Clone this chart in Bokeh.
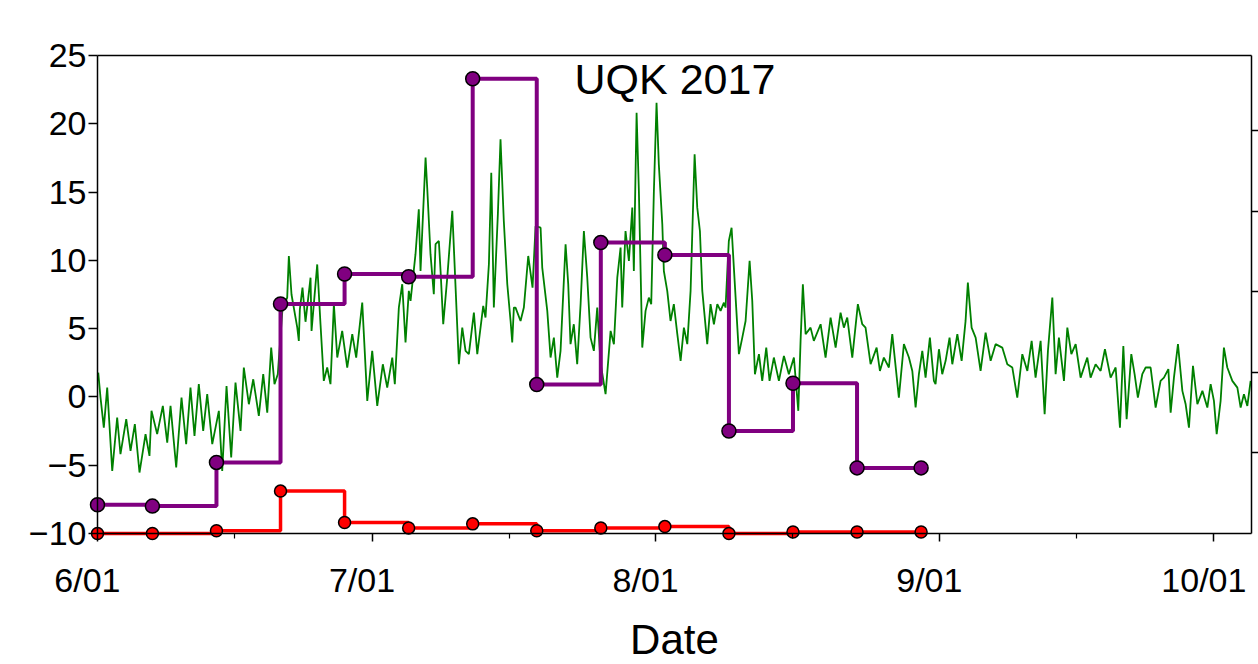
from bokeh.plotting import figure
from bokeh.models import Range1d, LinearAxis, FixedTicker, Label, CustomJSTickFormatter
from bokeh.embed import file_html
from bokeh.resources import INLINE

# ---- data ----
x_tick_days = [0, 30, 61, 92, 122]
x_tick_labels = ["6/01", "7/01", "8/01", "9/01", "10/01"]
x_minor_days = [15, 45, 76, 107]
y_ticks = [-10, -5, 0, 5, 10, 15, 20, 25]
x_start, x_end = 0, 126.1
y_start, y_end = -10, 25

sample_days = [0, 6, 13, 20, 27, 34, 41, 48, 55, 62, 69, 76, 83, 90]
purple_vals = [-7.9, -8.0, -4.8, 6.8, 9.0, 8.8, 23.3, 0.9, 11.3, 10.4, -2.5, 1.0, -5.2, -5.2]
red_vals = [-10.0, -10.0, -9.8, -6.9, -9.2, -9.6, -9.3, -9.8, -9.6, -9.5, -10.0, -9.9, -9.9, -9.9]

green_days = [
    0.08, 0.33, 0.69, 1.06, 1.61, 2.15, 2.51, 3.14, 3.61, 4.08, 4.59, 5.25, 5.68, 5.90,
    6.52, 7.14, 7.62, 7.98, 8.60, 9.18, 9.69, 10.16, 10.60, 11.07, 11.55, 11.99, 12.54,
    13.26, 13.63, 14.10, 14.61, 15.08, 15.63, 15.99, 16.54, 17.02, 17.63, 18.11, 18.55,
    18.98, 19.34, 19.70, 20.22, 20.73, 20.91, 21.20, 21.83, 22.00, 22.11, 22.40, 22.73,
    23.28, 23.39, 24.01, 24.37, 24.73, 25.10, 25.46, 25.83, 26.20, 26.74, 27.29, 27.84,
    28.27, 28.93, 29.48, 30.02, 30.57, 31.18, 31.66, 32.21, 32.49, 32.93, 33.30, 33.66,
    34.02, 34.21, 34.75, 35.11, 35.30, 35.49, 35.85, 36.03, 36.39, 36.75, 36.94, 37.30,
    37.49, 37.78, 38.22, 38.77, 39.13, 39.49, 39.86, 40.22, 40.58, 41.13, 41.50, 42.15,
    42.40, 42.77, 43.03, 43.31, 43.75, 44.04, 44.40, 44.78, 45.14, 45.32, 45.50, 45.68,
    46.23, 46.59, 47.07, 47.54, 47.87, 48.42, 48.60, 49.15, 49.51, 49.87, 50.24, 50.60,
    51.15, 51.44, 51.69, 52.05, 52.42, 52.79, 53.15, 53.52, 53.88, 54.24, 54.61, 54.97,
    55.52, 56.07, 56.43, 56.80, 57.16, 57.34, 57.70, 58.07, 58.44, 58.61, 58.91, 59.16,
    59.53, 59.89, 60.25, 60.51, 60.80, 61.09, 61.34, 61.72, 61.89, 62.26, 62.62, 62.98,
    63.36, 63.72, 64.08, 64.45, 64.81, 65.25, 65.54, 65.83, 66.09, 66.63, 66.99, 67.36,
    67.73, 68.09, 68.45, 68.63, 68.99, 69.29, 69.54, 70.09, 70.46, 70.82, 71.26, 71.55,
    71.84, 72.28, 72.64, 73.08, 73.44, 73.91, 74.46, 75.01, 75.55, 76.10, 76.58, 76.83,
    77.08, 77.38, 77.92, 78.28, 79.02, 79.56, 80.11, 80.66, 81.20, 81.56, 81.93, 82.48,
    83.09, 83.57, 83.93, 84.48, 85.14, 85.50, 85.93, 86.48, 86.85, 87.57, 88.12, 88.67,
    89.04, 89.40, 89.76, 90.13, 90.49, 90.96, 91.40, 91.58, 91.95, 92.31, 92.68, 93.11,
    93.41, 93.96, 94.43, 94.86, 95.11, 95.52, 95.96, 96.50, 97.05, 97.60, 98.14, 98.87,
    99.42, 99.97, 100.51, 101.06, 101.61, 102.08, 102.51, 103.06, 103.50, 103.86, 104.34,
    104.70, 105.06, 105.61, 105.98, 106.42, 106.89, 107.43, 108.16, 108.52, 109.07,
    109.62, 110.09, 110.71, 111.26, 111.73, 112.10, 112.46, 112.97, 113.33, 113.69,
    114.17, 114.54, 115.08, 115.63, 116.17, 116.54, 117.02, 117.27, 117.63, 118.07,
    118.55, 118.91, 119.27, 119.71, 120.19, 120.74, 121.28, 121.64, 122.00, 122.30,
    122.73, 123.09, 123.46, 124.01, 124.56, 124.92, 125.28, 125.65, 126.01,
]
green_vals = [
    1.78, -0.05, -2.25, 0.68, -5.42, -1.51, -4.20, -1.63, -3.95, -2.00, -5.54, -2.73, -4.32, -1.02,
    -2.73, -0.66, -3.35, -0.66, -5.17, -0.05, -3.47, 0.68, -2.86, 0.93, -2.49, 0.20, -3.46,
    -1.02, -5.42, 0.80, -4.44, 1.05, -2.49, 2.15, -0.54, 1.29, -1.39, 1.66, -1.15,
    3.61, 0.93, 1.66, 6.50, 7.27, 10.32, 7.50, 5.07, 4.10, 6.40, 8.00, 5.50,
    8.73, 4.83, 9.70, 5.32, 1.17, 2.15, 0.93, 6.79, 2.88, 4.83, 2.15, 4.59,
    2.88, 6.90, -0.29, 3.37, -0.66, 2.39, 0.68, 2.88, 0.93, 6.54, 8.25, 3.98,
    7.76, 7.03, 10.45, 13.74, 9.22, 12.15, 17.52, 15.32, 10.45, 7.52, 11.18, 11.42,
    9.22, 5.32, 8.73, 13.62, 8.00, 2.39, 5.07, 3.37, 3.13, 6.17, 3.13, 6.66,
    5.81, 9.71, 16.42, 6.54, 13.37, 18.87, 12.88, 8.25, 5.56, 3.98, 6.54, 6.54,
    5.56, 6.54, 10.32, 8.00, 12.50, 12.39, 9.47, 6.30, 2.88, 4.34, 1.41, 3.37,
    11.18, 8.25, 3.86, 5.32, 2.39, 6.79, 12.15, 8.73, 4.34, 3.37, 6.54, 2.50,
    0.20, 4.83, 3.86, 8.73, 10.93, 6.54, 12.15, 9.96, 13.86, 9.22, 20.81, 15.08,
    3.61, 6.30, 7.27, 6.79, 15.08, 21.54, 17.03, 12.64, 9.22, 7.76, 5.56, 6.79,
    4.59, 2.64, 5.07, 3.86, 7.76, 17.77, 13.86, 12.15, 7.76, 3.86, 6.79, 5.32,
    6.79, 6.30, 6.90, 6.54, 11.42, 12.39, 9.47, 3.13, 4.34, 5.56, 9.96, 7.03,
    1.66, 3.13, 1.17, 3.61, 1.17, 2.88, 1.17, 3.00, 1.66, 2.88, -1.02, 4.10,
    8.25, 4.59, 5.07, 4.10, 5.32, 2.88, 5.81, 3.61, 6.17, 5.07, 5.81, 2.88,
    6.79, 5.32, 5.07, 2.39, 3.61, 1.90, 2.88, 2.15, 4.59, -0.05, 3.86, 2.88,
    1.90, -0.78, 1.66, 3.37, 1.41, 4.34, 1.17, 0.93, 3.49, 1.66, 2.64, 4.34,
    2.39, 4.59, 2.64, 5.56, 8.37, 5.07, 4.34, 1.90, 4.71, 2.64, 3.86, 3.61,
    2.39, 2.15, -0.05, 3.13, 1.90, 4.10, 1.41, 4.10, -1.27, 3.37, 7.27,
    1.66, 4.34, 1.17, 5.07, 3.13, 3.86, 1.41, 2.88, 1.41, 2.39,
    1.90, 3.49, 1.41, 2.15, -2.25, 3.73, -1.63, 3.13, 1.66, -0.05,
    1.66, 2.15, 2.15, -0.78, 1.17, 1.41, 2.03, -1.15, 1.41, 3.86,
    0.44, -0.54, -2.25, 2.27, -0.54, 0.44, -0.78, 0.93, -0.29, -2.73,
    -0.29, 3.61, 2.15, 1.17, 0.68, -0.78, 0.20, -0.66, 1.17,
]

FONT = "Liberation Sans"
LABEL_SHIFT = -1.1   # date labels sit slightly left of their ticks in the original

# The frame fills the whole canvas; the axes are drawn at fixed data locations
# inside it, so labels, titles and edge markers are never clipped.
p = figure(width=1258, height=664, output_backend="svg", toolbar_location=None,
           x_range=Range1d(x_start - 10.6, x_end + 0.77), y_range=Range1d(y_start - 9.6, y_end + 4.03),
           x_axis_type=None, y_axis_type=None,
           min_border_left=0, min_border_right=0, min_border_top=0, min_border_bottom=0)
p.outline_line_color = None
p.background_fill_color = "white"
p.border_fill_color = "white"

# data
p.line(green_days, green_vals, color="#008000", line_width=1.8)
p.step(sample_days, red_vals, mode="after", color="#ff0000", line_width=3.5)
p.scatter(sample_days, red_vals, size=12, fill_color="#ff0000", line_color="black", line_width=1.5)
p.step(sample_days, purple_vals, mode="after", color="#800080", line_width=4)
p.scatter(sample_days, purple_vals, size=14, fill_color="#800080", line_color="black", line_width=1.5)

common_fixed = dict(major_label_text_color=None, major_label_text_font_size="1px",
                    major_label_standoff=0, axis_line_width=1.5, major_tick_line_width=1.5,
                    axis_line_color="black", major_tick_line_color="black", major_tick_in=0)

# axis lines and ticks, drawn at the data edges
bx = LinearAxis(ticker=FixedTicker(ticks=x_tick_days, minor_ticks=x_minor_days),
                fixed_location=y_start, bounds=(x_start, x_end), major_tick_out=8,
                minor_tick_out=5, minor_tick_in=0, minor_tick_line_width=1.2,
                minor_tick_line_color="black", **common_fixed)
p.add_layout(bx, "below")
ly = LinearAxis(ticker=FixedTicker(ticks=y_ticks, minor_ticks=[]),
                fixed_location=x_start, bounds=(y_start, y_end), major_tick_out=9, **common_fixed)
p.add_layout(ly, "left")
tx = LinearAxis(ticker=FixedTicker(ticks=[], minor_ticks=[]), fixed_location=y_end,
                bounds=(x_start, x_end), major_tick_out=0, **common_fixed)
p.add_layout(tx, "above")
p.extra_y_ranges = {"r": Range1d(-1.625, 6.613)}
ry = LinearAxis(y_range_name="r", ticker=FixedTicker(ticks=[1, 2, 3, 4, 5], minor_ticks=[]),
                fixed_location=x_end, bounds=(0, 5.93), major_tick_out=7, **common_fixed)
p.add_layout(ry, "right")

# tick labels
label_pos = [d + LABEL_SHIFT for d in x_tick_days]
xfmt = CustomJSTickFormatter(args=dict(pos=label_pos, labels=x_tick_labels), code="""
    for (let i = 0; i < pos.length; i++) { if (Math.abs(pos[i] - tick) < 1e-6) return labels[i] }
    return ''
""")
label_style = dict(axis_line_color=None, major_tick_line_color=None, minor_tick_line_color=None,
                   major_tick_out=0, major_tick_in=0, major_label_text_color="black",
                   major_label_text_font=FONT, major_label_text_font_size="34px")
xlab = LinearAxis(ticker=FixedTicker(ticks=label_pos, minor_ticks=[]), formatter=xfmt,
                  fixed_location=y_start, major_label_standoff=28, **label_style)
p.add_layout(xlab, "below")
ylab = LinearAxis(ticker=FixedTicker(ticks=y_ticks, minor_ticks=[]),
                  fixed_location=x_start, major_label_standoff=11, **label_style)
p.add_layout(ylab, "left")

# axis title and chart title
p.add_layout(Label(x=(x_start + x_end) / 2, y=-19.52, text="Date", text_align="center",
                   text_baseline="bottom", text_font=FONT, text_font_size="42px", text_color="black"))
p.add_layout(Label(x=63.1, y=23.3, text="UQK 2017", text_align="center", text_baseline="middle",
                   text_font=FONT, text_font_size="43px", text_color="black"))

open("out.html", "w").write(file_html(p, INLINE))
